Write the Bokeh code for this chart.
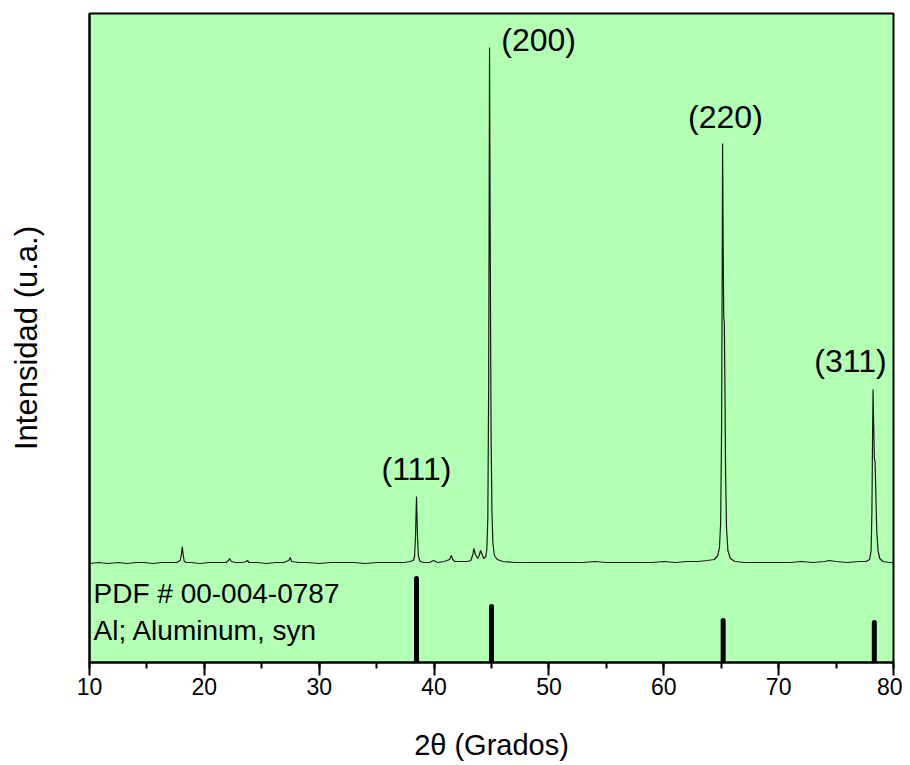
from bokeh.plotting import figure
from bokeh.models import Range1d, SingleIntervalTicker, FixedTicker
from bokeh.core.properties import value
from bokeh.embed import file_html
from bokeh.resources import INLINE

# ---- measured XRD pattern (2theta in degrees, intensity in arbitrary units) ----
two_theta = [10.0, 10.8, 11.6, 12.5, 13.3, 14.0, 14.8, 15.5, 16.3, 17.0, 17.6, 17.9,
             18.0, 18.08, 18.15, 18.25, 18.45, 18.9, 19.6, 20.4, 21.2, 21.9, 22.1,
             22.2, 22.35, 22.7, 23.3, 23.65, 23.75, 23.9, 24.6, 25.4, 26.2, 26.9,
             27.35, 27.48, 27.6, 28.2, 29.0, 30.0, 31.0, 32.0, 33.0, 34.0, 35.0,
             36.0, 36.8, 37.4, 37.9, 38.2, 38.3, 38.38, 38.47, 38.56, 38.64, 38.78,
             39.1, 39.6, 39.95, 40.3, 40.9, 41.35, 41.5, 41.62, 41.8, 42.4, 42.9,
             43.2, 43.38, 43.46, 43.6, 43.8, 43.9, 44.05, 44.19, 44.32, 44.5, 44.6,
             44.68, 44.75, 44.8, 44.83, 44.87, 44.92, 44.97, 45.04, 45.12, 45.25, 45.5,
             46.0, 47.0, 48.0, 49.0, 50.0, 51.0, 52.0, 53.0, 54.0, 55.0, 56.0, 57.0,
             58.0, 59.0, 60.0, 61.0, 62.0, 63.0, 63.8, 64.4, 64.7, 64.85, 64.95,
             65.03, 65.08, 65.12, 65.17, 65.22, 65.27, 65.32, 65.38, 65.46, 65.58,
             65.8, 66.2, 67.0, 68.0, 69.0, 70.0, 71.0, 72.0, 73.0, 74.0, 74.4,
             75.0, 76.0, 77.0, 77.6, 77.92, 78.05, 78.12, 78.18, 78.22, 78.27,
             78.33, 78.4, 78.46, 78.54, 78.65, 78.8, 79.1, 79.6, 80.0]
intensity = [99, 100, 99, 100, 99, 100, 100, 99, 100, 100, 100, 102,
             108, 116, 108, 101, 100, 100, 99, 100, 100, 100, 102,
             104, 101, 100, 100, 101, 102, 100, 100, 99, 100, 100,
             102, 105, 101, 100, 100, 99, 100, 100, 100, 99, 100,
             100, 100, 100, 101, 102, 106, 125, 166, 125, 106, 101,
             100, 100, 102, 100, 101, 103, 107, 103, 101, 101, 101,
             102, 108, 114, 108, 104, 106, 112, 108, 104, 106, 114,
             145, 270, 470, 615, 480, 330, 220, 150, 120, 107, 103,
             101, 100, 100, 100, 100, 100, 100, 100, 101, 100, 100, 100,
             100, 100, 101, 100, 101, 101, 102, 103, 107, 115, 140,
             230, 370, 519, 420, 345, 340, 280, 190, 135, 112,
             104, 101, 100, 100, 100, 100, 100, 101, 100, 101, 102,
             101, 100, 101, 101, 103, 112, 150, 230, 273, 240,
             205, 200, 170, 132, 112, 104, 101, 100, 100]

# ---- reference pattern PDF # 00-004-0787 (Al) ----
ref_pos = [38.47, 45.0, 65.17, 78.33]
ref_height = [84, 56, 42, 40]

# ---- peak labels ----
hkl_labels = ["(111)", "(200)", "(220)", "(311)"]
hkl_x = [38.47, 49.1, 65.37, 76.25]
hkl_y = [194, 623, 546, 302]

ref_texts = ["PDF # 00-004-0787", "Al; Aluminum, syn"]
ref_text_x = [10.35, 10.35]
ref_text_y = [69, 32]

p = figure(width=902, height=765, x_range=Range1d(10, 80), y_range=Range1d(0, 649),
           output_backend="svg", toolbar_location=None,
           min_border_left=89, min_border_right=9, min_border_top=13, min_border_bottom=103,
           background_fill_color="#b3ffb3", border_fill_color="white")
p.grid.visible = False
p.outline_line_color = "black"
p.outline_line_width = 2

p.line(two_theta, intensity, line_color="#1a1a1a", line_width=1.2)

p.segment(x0=ref_pos, y0=[0] * len(ref_pos), x1=ref_pos, y1=ref_height,
          line_color="black", line_width=5, line_cap="round")

p.text(x=hkl_x, y=hkl_y, text=hkl_labels, text_align="center", text_baseline="middle",
       text_font=value("Liberation Sans"), text_font_size="32px", text_color="black")
p.text(x=ref_text_x, y=ref_text_y, text=ref_texts, text_align="left",
       text_baseline="middle",
       text_font=value("Liberation Sans"), text_font_size="28px", text_color="black")

xa = p.xaxis[0]
xa.ticker = SingleIntervalTicker(interval=10, num_minor_ticks=2)
xa.axis_line_width = 2
xa.major_tick_in = 0
xa.major_tick_out = 13
xa.minor_tick_in = 0
xa.minor_tick_out = 6
xa.major_tick_line_width = 2
xa.minor_tick_line_width = 2
xa.major_label_text_font = "Liberation Sans"
xa.major_label_text_font_size = "23px"
xa.major_label_text_color = "black"
xa.major_label_standoff = 2
xa.axis_label = "2θ (Grados)"
xa.axis_label_text_font = "Liberation Sans"
xa.axis_label_text_font_size = "29px"
xa.axis_label_text_font_style = "normal"
xa.axis_label_text_color = "black"
xa.axis_label_standoff = 31

ya = p.yaxis[0]
ya.ticker = FixedTicker(ticks=[])
ya.axis_line_width = 2
ya.major_tick_out = 0
ya.major_tick_in = 0
ya.minor_tick_out = 0
ya.minor_tick_in = 0
ya.major_label_standoff = 0
ya.axis_label = "Intensidad (u.a.)"
ya.axis_label_text_font = "Liberation Sans"
ya.axis_label_text_font_size = "31px"
ya.axis_label_text_font_style = "normal"
ya.axis_label_text_color = "black"
ya.axis_label_standoff = 46

open("out.html", "w").write(file_html(p, INLINE))
